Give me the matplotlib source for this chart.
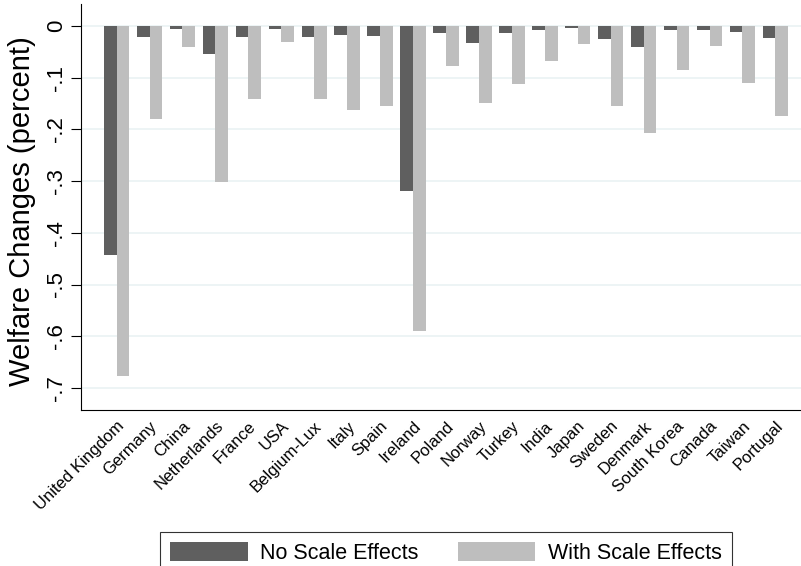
import numpy as np
import matplotlib
matplotlib.use('Agg')
import matplotlib.pyplot as plt

plt.rcParams['font.family'] = ['Liberation Sans', 'DejaVu Sans']

countries = ['United Kingdom', 'Germany', 'China', 'Netherlands', 'France', 'USA',
             'Belgium-Lux', 'Italy', 'Spain', 'Ireland', 'Poland', 'Norway', 'Turkey',
             'India', 'Japan', 'Sweden', 'Denmark', 'South Korea', 'Canada', 'Taiwan',
             'Portugal']
no_scale = [-0.443, -0.021, -0.006, -0.054, -0.021, -0.005, -0.021, -0.017, -0.019,
            -0.320, -0.013, -0.032, -0.013, -0.007, -0.003, -0.025, -0.040, -0.007,
            -0.007, -0.011, -0.023]
with_scale = [-0.677, -0.179, -0.040, -0.302, -0.142, -0.030, -0.142, -0.162, -0.154,
              -0.590, -0.077, -0.148, -0.112, -0.067, -0.034, -0.154, -0.206, -0.086,
              -0.038, -0.110, -0.175]
yticks = [0, -0.1, -0.2, -0.3, -0.4, -0.5, -0.6, -0.7]
ytick_labels = ['0', '-.1', '-.2', '-.3', '-.4', '-.5', '-.6', '-.7']

dark = '#5f5f5f'
light = '#bebebe'
grid = '#eaf2f3'

fig = plt.figure(figsize=(8.01, 5.66), dpi=100)
ax = fig.add_axes([81 / 801, 1 - 410 / 566, 730 / 801, 406 / 566])

x = np.arange(len(countries))
w = 0.386
ax.bar(x - w / 2, no_scale, w, color=dark, label='No Scale Effects', zorder=2)
ax.bar(x + w / 2, with_scale, w, color=light, label='With Scale Effects', zorder=2)

ax.set_xlim(-1.08, len(countries) - 1 + 1.08)
ax.set_ylim(-0.7427, 0.0426)

ax.set_yticks(yticks)
ax.set_yticklabels(ytick_labels, rotation=90, va='center', fontsize=16)
ax.tick_params(axis='y', length=7, width=0.8, pad=3)
ax.yaxis.grid(True, color=grid, linewidth=1.2, zorder=0)
ax.set_axisbelow(True)

ax.set_xticks(x)
ax.set_xticklabels(countries, rotation=45, ha='right', rotation_mode='anchor', fontsize=12)
ax.tick_params(axis='x', length=0, pad=6)

for s in ['top', 'right']:
    ax.spines[s].set_visible(False)
for s in ['left', 'bottom']:
    ax.spines[s].set_linewidth(0.8)

ax.set_ylabel('Welfare Changes (percent)', fontsize=21)
ax.yaxis.set_label_coords(-0.0616, 0.49)

leg = fig.legend(loc='upper center', bbox_to_anchor=(446 / 801, 1 - 532 / 566), ncol=2,
                 fontsize=15.5, frameon=True, fancybox=False, edgecolor='black',
                 handlelength=3.6, handleheight=1.0, handletextpad=0.6,
                 columnspacing=1.8, borderpad=0.45, borderaxespad=0)
leg.get_frame().set_linewidth(0.8)

fig.savefig('out.png', dpi=100)
